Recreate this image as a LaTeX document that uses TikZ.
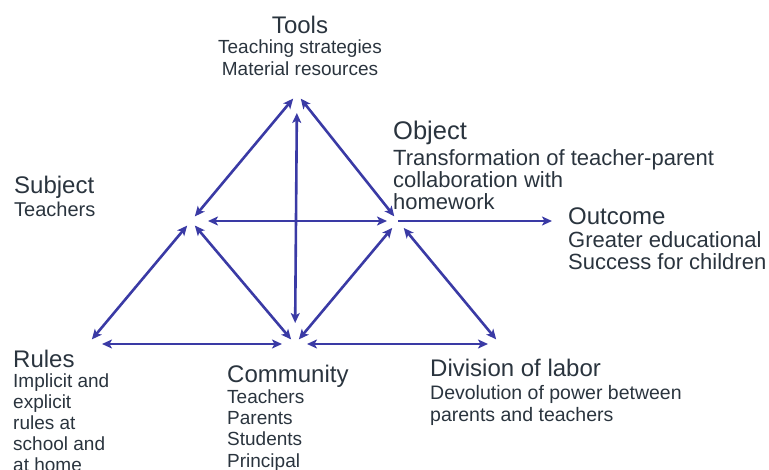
\documentclass[tikz,border=0pt]{standalone}
\usepackage{fontspec}
\setmainfont{Liberation Sans}
\usepackage{xcolor}
\usepackage{tikz}
\usetikzlibrary{arrows.meta}
\definecolor{arrowblue}{RGB}{58,58,165}
\definecolor{textgrey}{RGB}{42,52,62}
\newcommand{\hd}[1]{{\fontsize{24}{26}\selectfont #1}}
\tikzset{tip/.tip={Stealth[length=10pt,width=9pt,inset=2.5pt]}}
\tikzset{link/.style={draw=arrowblue, line width=2.6pt, tip-tip}}
\tikzset{onelink/.style={draw=arrowblue, line width=2.6pt, -tip}}
\tikzset{lbl/.style={text=textgrey, inner sep=0pt, align=left, anchor=north west, font=\fontsize{19.5}{21.5}\selectfont}}

\begin{document}
\begin{tikzpicture}[x=1pt,y=-1pt]
\useasboundingbox (0,0) rectangle (769,470);
\coordinate (tools) at (297,94);
\coordinate (subj) at (191,221);
\coordinate (obj) at (398,221);
\coordinate (rules) at (88,344);
\coordinate (comm) at (295,344);
\coordinate (divl) at (500,344);
\coordinate (outc) at (552,221);

\draw[link, shorten <=6pt, shorten >=6pt] (subj) -- (tools);
\draw[link, shorten <=6pt, shorten >=6pt] (tools) -- (obj);
\draw[link, shorten <=21pt, shorten >=19pt] (comm) -- (tools);
\draw[onelink] (obj) -- (outc);
\draw[link, shorten <=17pt, shorten >=11pt] (subj) -- (obj);
\draw[link, shorten <=6pt, shorten >=6pt] (subj) -- (rules);
\draw[link, shorten <=6pt, shorten >=6pt] (subj) -- (comm);
\draw[link, shorten <=9pt, shorten >=6pt] (obj) -- (comm);
\draw[link, shorten <=9pt, shorten >=6pt] (obj) -- (divl);
\draw[link, shorten <=14pt, shorten >=13pt] (rules) -- (comm);
\draw[link, shorten <=12pt, shorten >=12pt] (comm) -- (divl);

\node[lbl, anchor=north, align=center, font=\fontsize{19}{21.5}\selectfont] (toolsL) at (300,16)
  {\hd{Tools}\\[-1.5pt] Teaching strategies\\ Material resources};
\node[lbl, font=\fontsize{22}{22}\selectfont] (objL) at (393,120.5)
  {{\fontsize{25.5}{26}\selectfont Object}\\[4pt] Transformation of teacher-parent\\ collaboration with\\ homework};
\node[lbl, font=\fontsize{20}{21.5}\selectfont] (subjL) at (14,175.5)
  {\hd{Subject}\\[2pt] Teachers};
\node[lbl, font=\fontsize{22}{22}\selectfont] (outcL) at (568,207.5)
  {\hd{Outcome}\\[1pt] Greater educational\\ Success for children};
\node[lbl, font=\fontsize{19}{20.8}\selectfont] (rulesL) at (13,349.5)
  {\hd{Rules}\\ Implicit and\\ explicit\\ rules at\\ school and\\ at home};
\node[lbl, font=\fontsize{19}{21.3}\selectfont] (commL) at (227,364.5)
  {\hd{Community}\\ Teachers\\ Parents\\ Students\\ Principal};
\node[lbl] (divlL) at (430,358.5)
  {\hd{Division of labor}\\[2pt] Devolution of power between\\ parents and teachers};
\end{tikzpicture}
\end{document}
